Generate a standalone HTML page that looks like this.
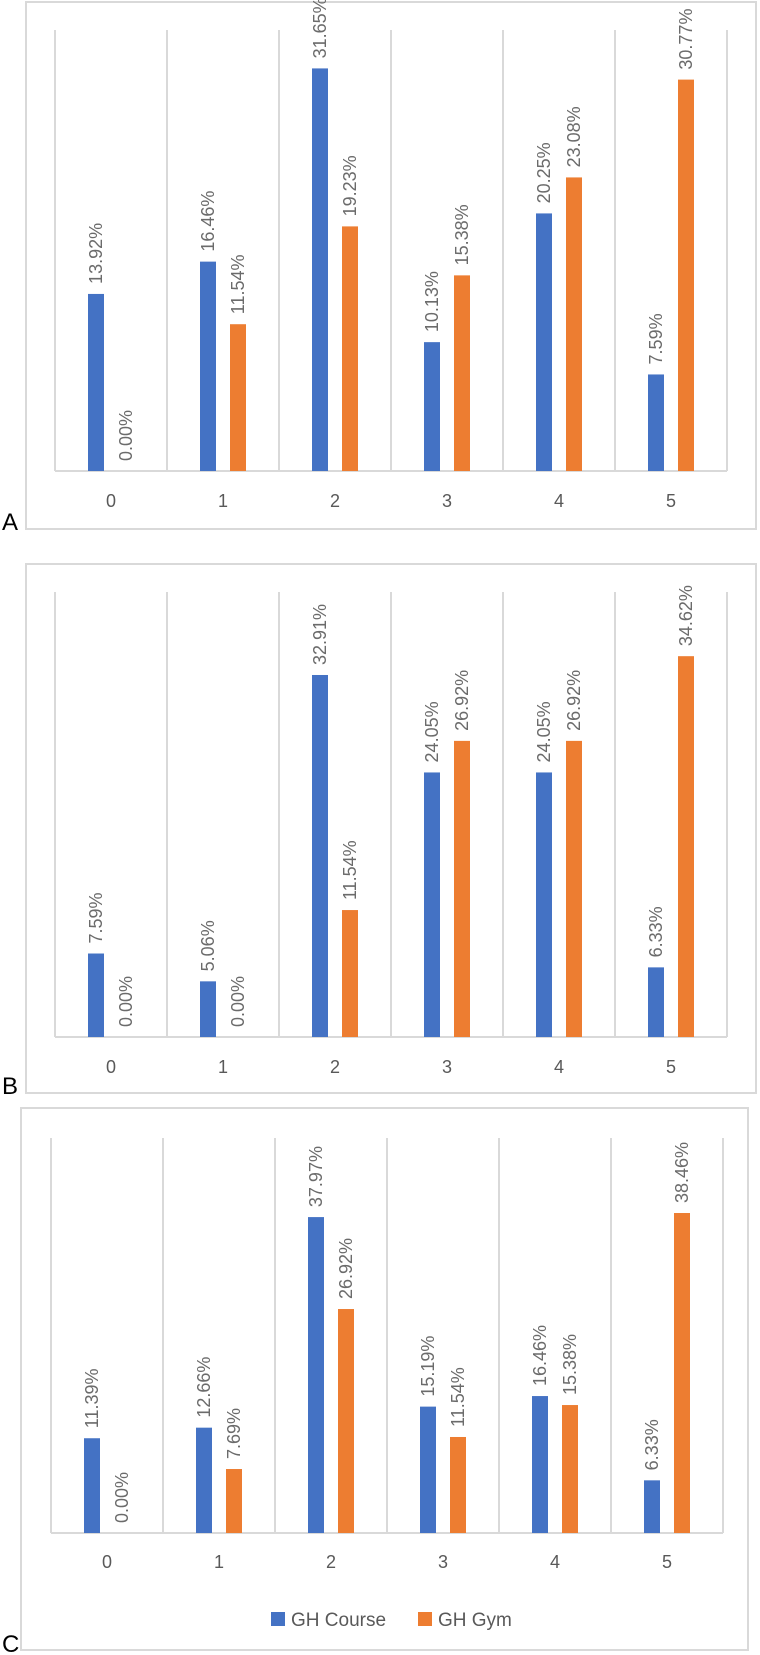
<!DOCTYPE html>
<html><head><meta charset="utf-8">
<style>
html,body{margin:0;padding:0;background:#fff;}
svg{display:block;font-family:"Liberation Sans",sans-serif;}
</style></head>
<body>
<svg id="chart" width="760" height="1655" viewBox="0 0 760 1655" xmlns="http://www.w3.org/2000/svg"></svg>
<script>
const categories = ["0","1","2","3","4","5"];
const courseA = [13.92,16.46,31.65,10.13,20.25,7.59];
const gymA    = [0.00,11.54,19.23,15.38,23.08,30.77];
const courseB = [7.59,5.06,32.91,24.05,24.05,6.33];
const gymB    = [0.00,0.00,11.54,26.92,26.92,34.62];
const courseC = [11.39,12.66,37.97,15.19,16.46,6.33];
const gymC    = [0.00,7.69,26.92,11.54,15.38,38.46];
const panelLetters = ["A","B","C"];
const seriesNames = ["GH Course","GH Gym"];

const NS="http://www.w3.org/2000/svg";
const svg=document.getElementById('chart');
function mk(tag,attrs,parent){const e=document.createElementNS(NS,tag);for(const k in attrs)e.setAttribute(k,attrs[k]);(parent||svg).appendChild(e);return e;}

const panels=[
 {course:courseA,gym:gymA,bx:26,by:2,bw:730,bh:527,x0:55,step:112,gridTop:30,base:471,pxPer:12.72,labY:507,letterY:530},
 {course:courseB,gym:gymB,bx:26,by:564,bw:730,bh:529,x0:55,step:112,gridTop:592,base:1037,pxPer:11.0,labY:1073,letterY:1094},
 {course:courseC,gym:gymC,bx:21,by:1108,bw:727,bh:542,x0:51,step:112,gridTop:1138,base:1533,pxPer:8.32,labY:1568,letterY:1652}
];
const BLUE="#4472c4",ORANGE="#ed7d31",GRID="#d9d9d9",TXT="#6b6b6b";

panels.forEach((p,pi)=>{
  const g=mk('g',{});
  
  
  const border=mk('rect',{x:p.bx,y:p.by,width:p.bw,height:p.bh,fill:'none',stroke:GRID,'stroke-width':2},g);
  
  
  const yScale=v=>p.base-v*p.pxPer;
  const xCenter=i=>p.x0+p.step*(i+0.5);
  for(let i=0;i<=categories.length;i++){
    const x=p.x0+p.step*i;
    const gl=mk('line',{x1:x,x2:x,y1:p.gridTop,y2:p.base,stroke:GRID,'stroke-width':2},g);
    
    
  }
  const ax=mk('line',{x1:p.x0,x2:p.x0+p.step*categories.length,y1:p.base,y2:p.base,stroke:GRID,'stroke-width':2},g);
  
  
  categories.forEach((c,i)=>{
    const cx=xCenter(i);
    [[p.course[i],cx-23,BLUE,'course'],[p.gym[i],cx+7,ORANGE,'gym']].forEach(([v,x,col,nm])=>{
      const h=v*p.pxPer;
      if(h>0){
        const r=mk('rect',{x:x,y:yScale(v),width:16,height:h,fill:col},g);
        
        
      }
      const tx=x+8+6, ty=yScale(v)-10;
      const t=mk('text',{x:0,y:0,transform:`translate(${tx},${ty}) rotate(-90)`,fill:TXT,'font-size':18,'text-anchor':'start'},g);
      t.textContent=v.toFixed(2)+'%';
      
      
    });
    const lt=mk('text',{x:cx,y:p.labY,fill:'#595959','font-size':18,'text-anchor':'middle'},g);
    lt.textContent=c;
    
    
  });
  const L=mk('text',{x:2,y:p.letterY,fill:'#000','font-size':24},g);
  L.textContent=panelLetters[pi];
  
  
});

const lg=mk('g',{});


[[271,BLUE,seriesNames[0]],[418,ORANGE,seriesNames[1]]].forEach(([x,col,name])=>{
  const e=mk('g',{},lg);
  
  
  mk('rect',{x:x,y:1612,width:14,height:14,fill:col},e);
  const t=mk('text',{x:x+20,y:1626,fill:'#595959','font-size':19},e);
  t.textContent=name;
});
</script>
</body></html>
